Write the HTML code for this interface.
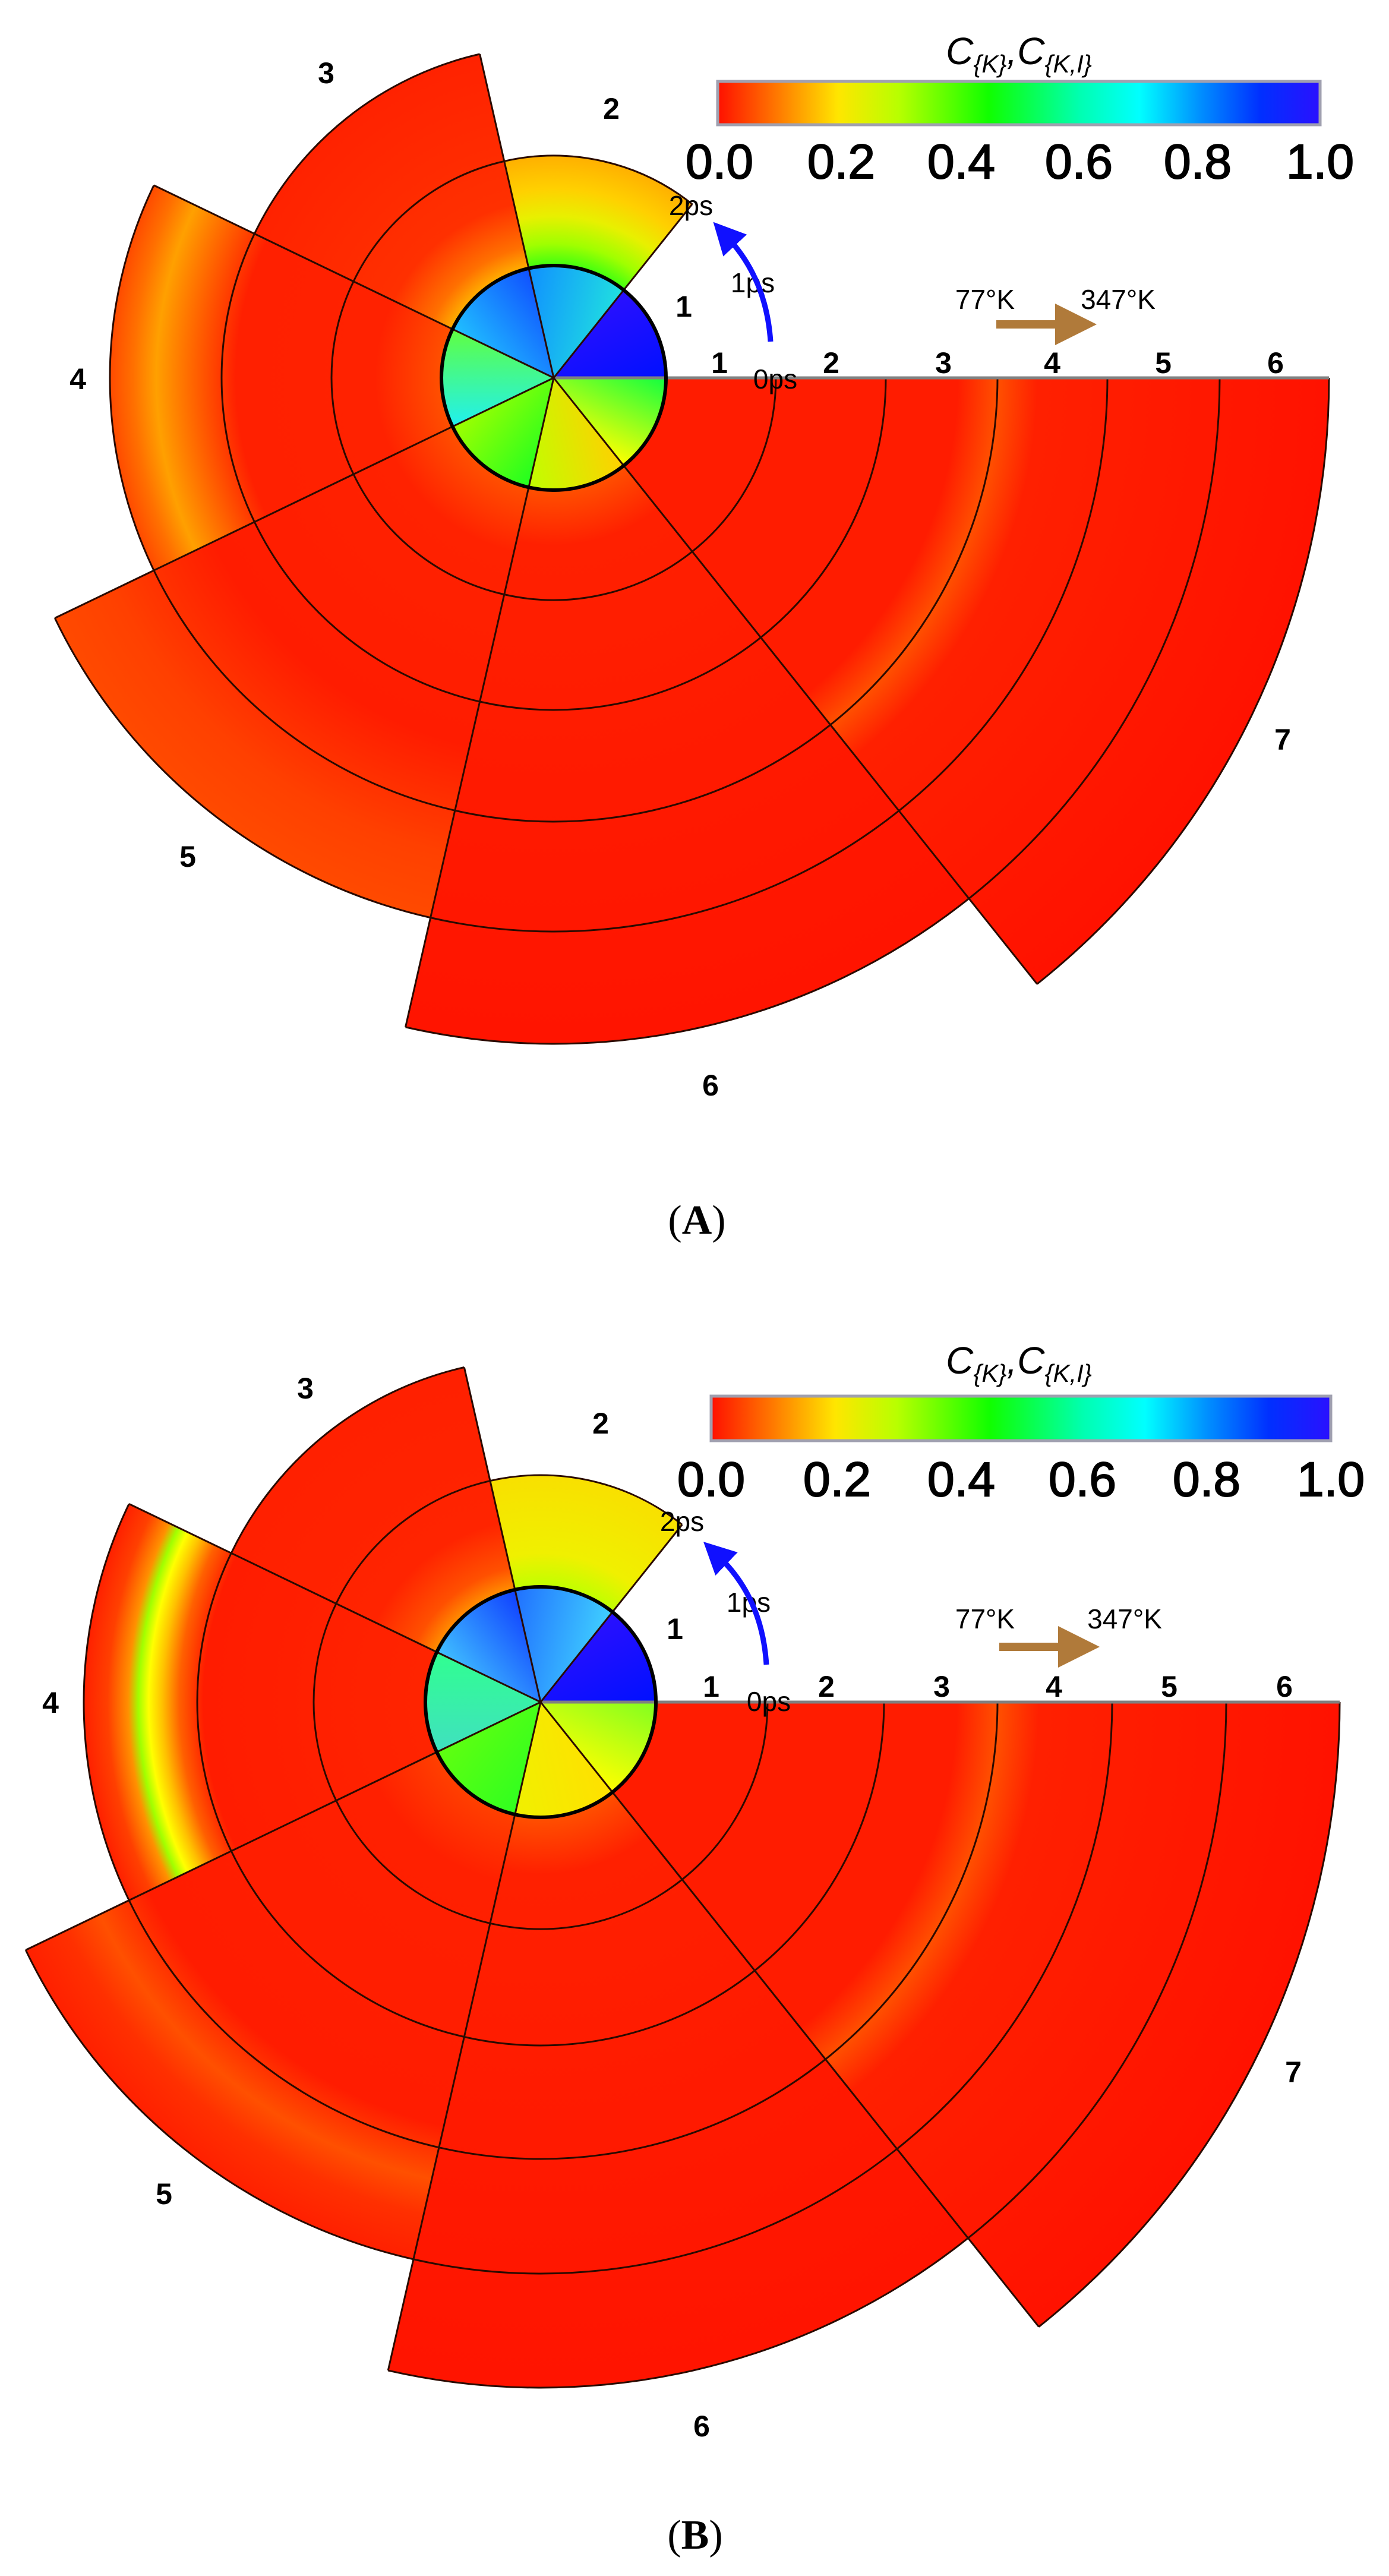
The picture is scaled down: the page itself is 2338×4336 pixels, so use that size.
<!DOCTYPE html>
<html><head><meta charset="utf-8"><style>
html,body{margin:0;padding:0;background:#fff;}
svg{display:block;}
</style></head><body>
<svg id="s" xmlns="http://www.w3.org/2000/svg" width="2338" height="4336" viewBox="0 0 2338 4336">
<defs>
<linearGradient id="cb" x1="0" y1="0" x2="1" y2="0">
<stop offset="0" stop-color="#ff1000"/><stop offset="0.1" stop-color="#ff7a00"/><stop offset="0.2" stop-color="#ffe600"/><stop offset="0.3" stop-color="#b8ff00"/><stop offset="0.45" stop-color="#10ff00"/><stop offset="0.6" stop-color="#00ffb0"/><stop offset="0.7" stop-color="#00ffff"/><stop offset="0.8" stop-color="#0090ff"/><stop offset="0.9" stop-color="#0030ff"/><stop offset="1" stop-color="#2a10ff"/>
</linearGradient>
<marker id="ab" markerWidth="6" markerHeight="6" refX="2" refY="3" orient="auto" markerUnits="strokeWidth"><path d="M0,0 L6,3 L0,6 z" fill="#1010ff"/></marker>
<marker id="ar" markerWidth="5" markerHeight="5" refX="1" refY="2.5" orient="auto" markerUnits="strokeWidth"><path d="M0,0 L5,2.5 L0,5 z" fill="#b07a3a"/></marker>
</defs>
<g id="g"></g>
<g font-family="Liberation Sans, sans-serif" fill="#000">
<text x="1715" y="108" font-size="64" font-style="italic" text-anchor="middle">C<tspan font-size="42" dy="14">{K}</tspan><tspan dy="-14">,C</tspan><tspan font-size="42" dy="14">{K,I}</tspan></text>
<rect x="1208" y="137" width="1014" height="73" fill="url(#cb)" stroke="#a0a0b0" stroke-width="5"/>
<g font-size="82" text-anchor="middle" stroke="#000" stroke-width="2">
<text x="1211" y="300">0.0</text><text x="1416" y="300">0.2</text><text x="1618" y="300">0.4</text><text x="1816" y="300">0.6</text><text x="2016" y="300">0.8</text><text x="2222" y="300">1.0</text>
</g>
<g font-size="50" font-weight="bold" text-anchor="middle">
<text x="549" y="140">3</text><text x="1029" y="200">2</text><text x="131" y="655">4</text><text x="1151" y="533">1</text><text x="316" y="1459">5</text><text x="1196" y="1844">6</text><text x="2159" y="1262">7</text>
<text x="1211" y="628">1</text><text x="1399" y="628">2</text><text x="1588" y="628">3</text><text x="1771" y="628">4</text><text x="1958" y="628">5</text><text x="2147" y="628">6</text>
</g>
<g font-size="46" text-anchor="middle">
<text x="1305" y="654">0ps</text><text x="1267" y="492">1ps</text><text x="1163" y="362">2ps</text>
<text x="1658" y="520">77°K</text><text x="1882" y="520">347°K</text>
</g>
<path d="M1297,575 Q1290,470 1225,400" fill="none" stroke="#1010ff" stroke-width="9" marker-end="url(#ab)"/>
<line x1="1677" y1="546" x2="1790" y2="546" stroke="#b07a3a" stroke-width="14" marker-end="url(#ar)"/>
<text x="1173" y="2077" font-family="Liberation Serif, serif" font-size="70" text-anchor="middle">(<tspan font-weight="bold">A</tspan>)</text>

<text x="1715" y="2312" font-size="64" font-style="italic" text-anchor="middle">C<tspan font-size="42" dy="14">{K}</tspan><tspan dy="-14">,C</tspan><tspan font-size="42" dy="14">{K,I}</tspan></text>
<rect x="1197" y="2350" width="1043" height="75" fill="url(#cb)" stroke="#a0a0b0" stroke-width="5"/>
<g font-size="82" text-anchor="middle" stroke="#000" stroke-width="2">
<text x="1197" y="2518">0.0</text><text x="1409" y="2518">0.2</text><text x="1618" y="2518">0.4</text><text x="1822" y="2518">0.6</text><text x="2031" y="2518">0.8</text><text x="2240" y="2518">1.0</text>
</g>
<g font-size="50" font-weight="bold" text-anchor="middle">
<text x="514" y="2354">3</text><text x="1011" y="2413">2</text><text x="85" y="2883">4</text><text x="1136" y="2759">1</text><text x="276" y="3710">5</text><text x="1181" y="4101">6</text><text x="2177" y="3505">7</text>
<text x="1197" y="2856">1</text><text x="1391" y="2856">2</text><text x="1585" y="2856">3</text><text x="1774" y="2856">4</text><text x="1968" y="2856">5</text><text x="2162" y="2856">6</text>
</g>
<g font-size="46" text-anchor="middle">
<text x="1294" y="2880">0ps</text><text x="1260" y="2713">1ps</text><text x="1148" y="2577">2ps</text>
<text x="1658" y="2741">77°K</text><text x="1893" y="2741">347°K</text>
</g>
<path d="M1290,2802 Q1283,2690 1210,2620" fill="none" stroke="#1010ff" stroke-width="9" marker-end="url(#ab)"/>
<line x1="1682" y1="2772" x2="1795" y2="2772" stroke="#b07a3a" stroke-width="14" marker-end="url(#ar)"/>
<text x="1170" y="4290" font-family="Liberation Serif, serif" font-size="70" text-anchor="middle">(<tspan font-weight="bold">B</tspan>)</text>
</g>
</svg>
<script>
(function(){
var NS="http://www.w3.org/2000/svg";
var g=document.getElementById('g');
var defs=document.querySelector('defs');
var step=2*Math.PI/7;
function el(n,a){var e=document.createElementNS(NS,n);for(var k in a)e.setAttribute(k,a[k]);return e;}
function pt(cx,cy,r,a){return [cx+r*Math.cos(a),cy-r*Math.sin(a)];}
function panel(id,cx,cy,rings,grads,inner){
  var r0=rings[0];
  for(var k=1;k<=7;k++){
    var a1=(k-1)*step,a2=k*step,R=rings[k-1];
    if(k>1){
      var gid=id+'g'+k;
      var rg=el('radialGradient',{id:gid,gradientUnits:'userSpaceOnUse',cx:cx,cy:cy,r:R});
      var st=grads[k];
      for(var i=0;i<st.length;i++){
        var off=(r0+(R-r0)*st[i][0])/R;
        rg.appendChild(el('stop',{offset:off,'stop-color':st[i][1]}));
      }
      defs.appendChild(rg);
      var o1=pt(cx,cy,R,a1),o2=pt(cx,cy,R,a2),i1=pt(cx,cy,r0,a1),i2=pt(cx,cy,r0,a2);
      var d='M'+o1+' A'+R+','+R+' 0 0 0 '+o2+' L'+i2+' A'+r0+','+r0+' 0 0 1 '+i1+' Z';
      g.appendChild(el('path',{d:d,fill:'url(#'+gid+')'}));
    }
    var lg=el('linearGradient',{id:id+'i'+k,gradientUnits:'userSpaceOnUse'});
    var q1=pt(cx,cy,r0,a1),q2=pt(cx,cy,r0,a2);
    lg.setAttribute('x1',q1[0]);lg.setAttribute('y1',q1[1]);lg.setAttribute('x2',q2[0]);lg.setAttribute('y2',q2[1]);
    lg.appendChild(el('stop',{offset:0,'stop-color':inner[k-1][0]}));
    lg.appendChild(el('stop',{offset:1,'stop-color':inner[k-1][1]}));
    defs.appendChild(lg);
    g.appendChild(el('path',{d:'M'+cx+','+cy+' L'+q1+' A'+r0+','+r0+' 0 0 0 '+q2+' Z',fill:'url(#'+id+'i'+k+')'}));
  }
  for(var k=2;k<=7;k++){
    var a1=(k-1)*step,a2=k*step;
    for(var j=1;j<k;j++){
      var r=rings[j];
      var p1=pt(cx,cy,r,a1),p2=pt(cx,cy,r,a2);
      g.appendChild(el('path',{d:'M'+p1+' A'+r+','+r+' 0 0 0 '+p2,fill:'none',stroke:'#2a0a00','stroke-width':3}));
    }
  }
  for(var k=0;k<7;k++){
    var a=k*step;
    var R=Math.max(rings[k===0?6:k-1],rings[k]);
    var p=pt(cx,cy,R,a);
    g.appendChild(el('line',{x1:cx,y1:cy,x2:p[0],y2:p[1],stroke:k===0?'#808080':'#2a0a00','stroke-width':k===0?5:3}));
  }
  g.appendChild(el('circle',{cx:cx,cy:cy,r:r0,fill:'none',stroke:'#000','stroke-width':6}));
}
var gA={
2:[[0,'#40ff10'],[0.2,'#a0ff00'],[0.45,'#e8f000'],[0.7,'#ffd000'],[1,'#ffb000']],
3:[[0,'#ffb000'],[0.1,'#ff7000'],[0.3,'#ff3000'],[1,'#ff2200']],
4:[[0,'#ff5000'],[0.2,'#ff2200'],[0.62,'#ff2000'],[0.74,'#ff6000'],[0.86,'#ffa000'],[0.93,'#ff7000'],[1,'#ff4a00']],
5:[[0,'#ff5000'],[0.15,'#ff2200'],[0.6,'#ff1c00'],[0.85,'#ff4000'],[1,'#ff4a00']],
6:[[0,'#ff5000'],[0.1,'#ff2000'],[1,'#ff1400']],
7:[[0,'#ff1c00'],[0.44,'#ff1c00'],[0.5,'#ff5000'],[0.56,'#ff2000'],[1,'#ff1200']]
};
var iA=[['#0010ff','#2a10ff'],['#20e0e0','#1090ff'],['#1050ff','#20c0ff'],['#60ff40','#20f0f0'],['#a0ff00','#20ff20'],['#c0ff00','#ffd000'],['#ffff00','#10ff40']];
var gB={
2:[[0,'#c0ff00'],[0.3,'#f0f000'],[1,'#f8e000']],
3:[[0,'#ff9000'],[0.1,'#ff5000'],[0.3,'#ff2400'],[1,'#ff2000']],
4:[[0,'#ff2400'],[0.65,'#ff1c00'],[0.72,'#ff6000'],[0.77,'#ffc000'],[0.81,'#ffff00'],[0.84,'#a0ff00'],[0.87,'#ff9000'],[0.93,'#ff4000'],[1,'#ff2000']],
5:[[0,'#ff4000'],[0.15,'#ff2000'],[0.7,'#ff1c00'],[0.82,'#ff5000'],[0.9,'#ff3000'],[1,'#ff2000']],
6:[[0,'#ff5000'],[0.1,'#ff2000'],[1,'#ff1400']],
7:[[0,'#ff1c00'],[0.44,'#ff1c00'],[0.5,'#ff5000'],[0.56,'#ff2000'],[1,'#ff1200']]
};
var iB=[['#0010ff','#2a10ff'],['#40d0ff','#2070ff'],['#1040ff','#40c0ff'],['#30ff90','#40e0c0'],['#60ff10','#30ff20'],['#f0f000','#ffe000'],['#ffff00','#80ff20']];
panel('A',932,636,[189,374,559,747,932,1121,1305],gA,iA);
panel('B',910,2865,[194,382,578,769,962,1154,1345],gB,iB);
})();
</script>
</body></html>
